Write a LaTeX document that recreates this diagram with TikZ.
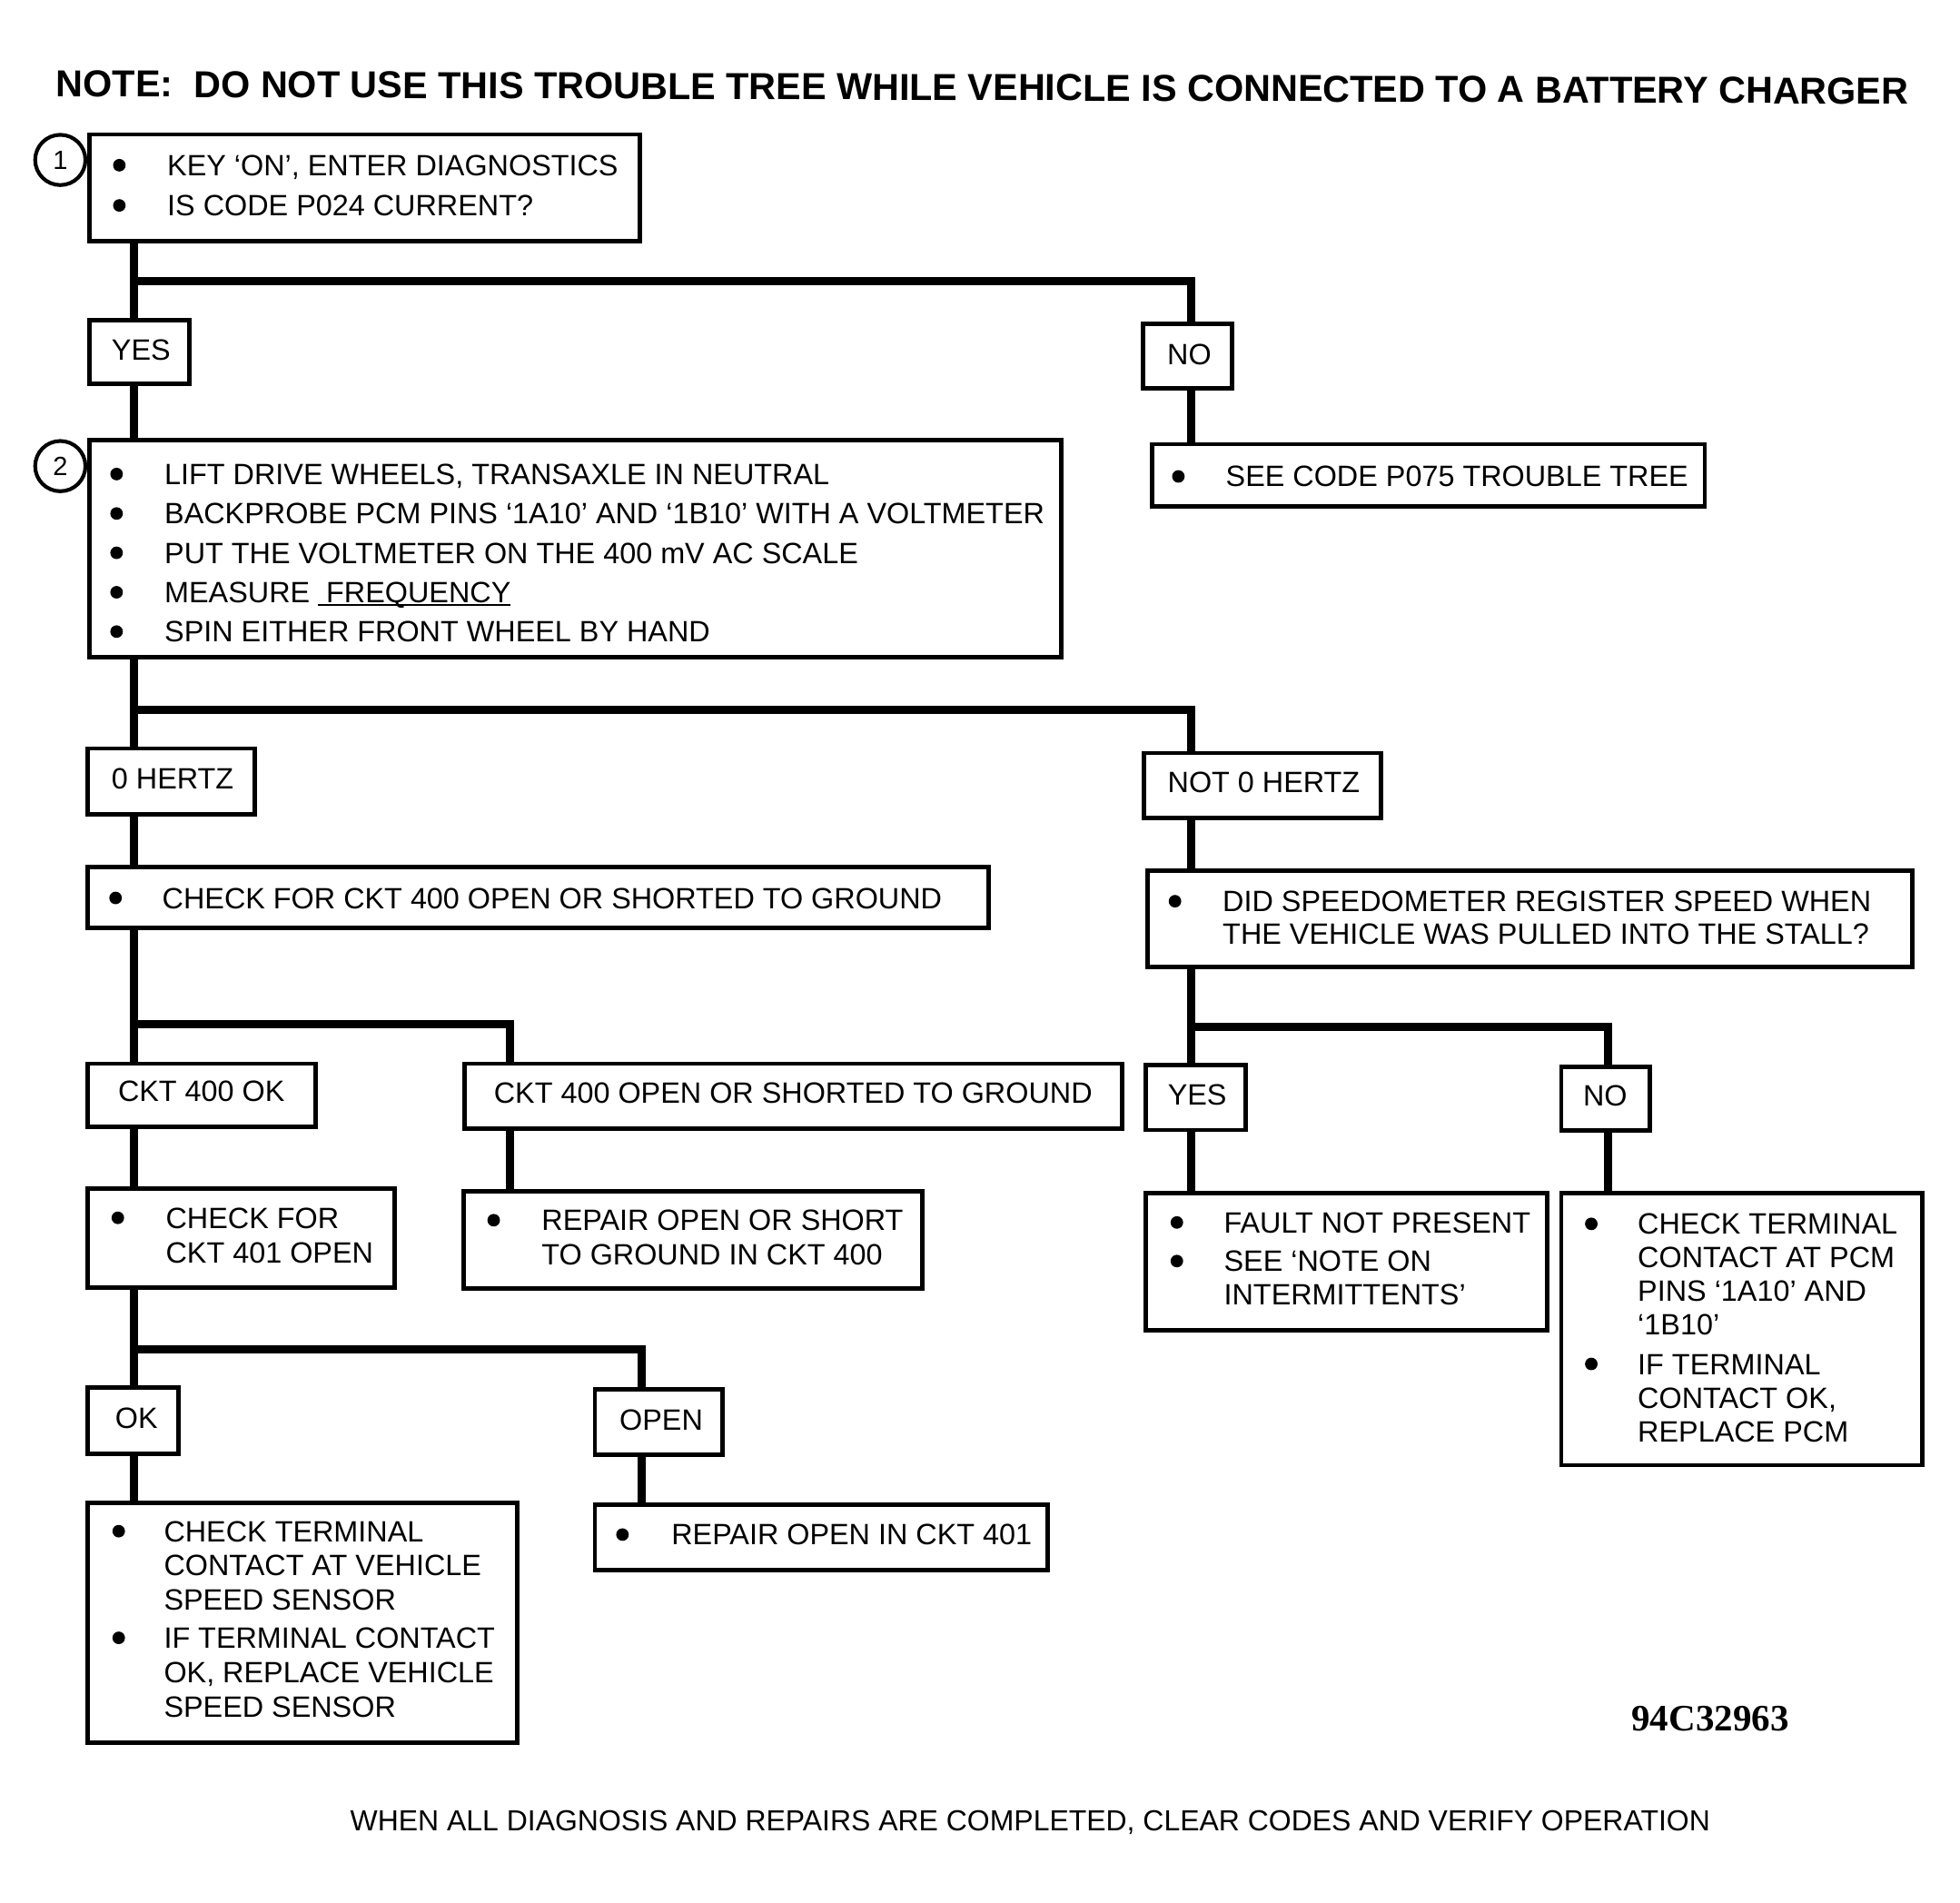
\documentclass[tikz,border=0pt]{standalone}
\usepackage{fontspec}
\setmainfont{Liberation Sans}
\newfontfamily\codefont{Liberation Serif}
\newcommand\mkbox[5]{\node[box, minimum width={(#4)-(#2)}, minimum height={(#5)-(#3)}] (#1) at (#2,#3) {};}
\newcommand\bul[2]{\fill (#1,#2) circle (5pt);}
\tikzset{
  box/.style={draw, line width=3.5pt, inner sep=0pt, outer sep=0pt, anchor=north west},
  conn/.style={line width=6.5pt},
  txt/.style={anchor=base west, inner sep=0pt, font=\fontsize{23.4}{28}\selectfont},
  num/.style={circle, draw, line width=3pt, minimum size=40pt, inner sep=0pt, font=\fontsize{21}{21}\selectfont},
}
\begin{document}
\begin{tikzpicture}[x=1pt,y=-1pt]
\useasboundingbox (0,0) rectangle (1560.2,1514);

% title
\node[anchor=base west, inner sep=0pt, font=\bfseries\fontsize{29.9}{30}\selectfont, rotate=-0.23] (title) at (44.6,77)
  {NOTE:\ \ DO NOT USE THIS TROUBLE TREE WHILE VEHICLE IS CONNECTED TO A BATTERY CHARGER};

% trunk coordinates
\coordinate (vA) at (106.5,0);
\coordinate (vB) at (948,0);
\coordinate (vC) at (405.6,0);
\coordinate (vD) at (511,0);
\coordinate (vE) at (1280.1,0);
\coordinate (h1) at (0,223.6);
\coordinate (h2) at (0,565);
\coordinate (h3) at (0,815.3);
\coordinate (h4) at (0,1074.3);
\coordinate (h5) at (0,817);

% step 1
\node[num] (c1) at (48,127.3) {1};
\mkbox{b1}{71}{107}{509.5}{192}
\bul{95}{131.5}
\node[txt] (t1a) at (133,140) {KEY ‘ON’, ENTER DIAGNOSTICS};
\bul{95}{163.5}
\node[txt] (t1b) at (133,172) {IS CODE P024 CURRENT?};

\mkbox{yes1}{71}{254.6}{150.6}{305.5}
\node[txt] (tyes1) at (88.7,286.5) {YES};
\mkbox{no1}{910}{257.6}{980.5}{309}
\node[txt] (tno1) at (929,290) {NO};

\mkbox{see}{917}{353.5}{1357}{403.3}
\bul{938}{379.2}
\node[txt] (tsee) at (975.6,387.5) {SEE CODE P075 TROUBLE TREE};

% step 2
\node[num] (c2) at (48,371) {2};
\mkbox{b2}{71}{350.5}{845}{523}
\bul{92.8}{377.3}
\node[txt] (t2a) at (130.8,385.6) {LIFT DRIVE WHEELS, TRANSAXLE IN NEUTRAL};
\bul{92.8}{408.7}
\node[txt] (t2b) at (130.8,417) {BACKPROBE PCM PINS ‘1A10’ AND ‘1B10’ WITH A VOLTMETER};
\bul{92.8}{440}
\node[txt] (t2c) at (130.8,448.3) {PUT THE VOLTMETER ON THE 400 mV AC SCALE};
\bul{92.8}{471.4}
\node[txt] (t2d) at (130.8,479.7) {MEASURE\ \ FREQUENCY};
\draw[line width=2pt] (253,481.5) -- (406.5,481.5);
\bul{92.8}{502.7}
\node[txt] (t2e) at (130.8,511) {SPIN EITHER FRONT WHEEL BY HAND};

\mkbox{hz0}{70}{595.7}{202.8}{648}
\node[txt] (thz0) at (88.7,628) {0 HERTZ};
\mkbox{nhz}{910.5}{599.4}{1099.5}{651}
\node[txt] (tnhz) at (929.3,630.8) {NOT 0 HERTZ};

\mkbox{chk400}{70}{689.8}{787}{738.5}
\bul{92}{714.7}
\node[txt] (tchk400) at (129,723) {CHECK FOR CKT 400 OPEN OR SHORTED TO GROUND};

\mkbox{ok400}{70}{846.6}{251}{897}
\node[txt] (tok400) at (93.8,876.5) {CKT 400 OK};
\mkbox{op400}{370}{846.6}{893.5}{898.3}
\node[txt] (top400) at (393,878) {CKT 400 OPEN OR SHORTED TO GROUND};

\mkbox{chk401}{70}{946}{314}{1024.9}
\bul{93.8}{969.3}
\node[txt] (tchk401a) at (131.8,977.6) {CHECK FOR};
\node[txt] (tchk401b) at (131.8,1005.3) {CKT 401 OPEN};

\mkbox{rep400}{369}{948}{734}{1025.6}
\bul{393}{971.2}
\node[txt] (trep400a) at (431,979.5) {REPAIR OPEN OR SHORT};
\node[txt] (trep400b) at (431,1006.4) {TO GROUND IN CKT 400};

\mkbox{ok401}{70}{1104.2}{142}{1157.1}
\node[txt] (tok401) at (91.5,1137) {OK};
\mkbox{op401}{473.6}{1105.9}{575}{1157.9}
\node[txt] (top401) at (493,1138.5) {OPEN};

\mkbox{vss}{69.7}{1196.3}{412}{1387.3}
\bul{94.5}{1218.7}
\node[txt] (tvss1) at (130.3,1227) {CHECK TERMINAL};
\node[txt] (tvss2) at (130.3,1254.3) {CONTACT AT VEHICLE};
\node[txt] (tvss3) at (130.3,1281.6) {SPEED SENSOR};
\bul{94.5}{1303.6}
\node[txt] (tvss4) at (130.3,1311.9) {IF TERMINAL CONTACT};
\node[txt] (tvss5) at (130.3,1339.2) {OK, REPLACE VEHICLE};
\node[txt] (tvss6) at (130.3,1366.5) {SPEED SENSOR};

\mkbox{rep401}{473.6}{1197.7}{834}{1249.7}
\bul{495.5}{1221.4}
\node[txt] (trep401) at (534.3,1229.7) {REPAIR OPEN IN CKT 401};

% right branch
\mkbox{spd}{913.4}{692.8}{1522.4}{769.5}
\bul{935.3}{717.3}
\node[txt] (tspd1) at (973.1,725.6) {DID SPEEDOMETER REGISTER SPEED WHEN};
\node[txt] (tspd2) at (973.1,751.8) {THE VEHICLE WAS PULLED INTO THE STALL?};

\mkbox{yes2}{912}{847.7}{991.5}{899.4}
\node[txt] (tyes2) at (929.4,879.5) {YES};
\mkbox{no2}{1242.8}{849}{1313.4}{900}
\node[txt] (tno2) at (1260,880.3) {NO};

\mkbox{fault}{912}{949.9}{1231.8}{1058.8}
\bul{936.8}{973}
\node[txt] (tf1) at (974.1,981.3) {FAULT NOT PRESENT};
\bul{936.8}{1003.7}
\node[txt] (tf2) at (974.1,1012) {SEE ‘NOTE ON};
\node[txt] (tf3) at (974.1,1038.5) {INTERMITTENTS’};

\mkbox{pcm}{1242.8}{949.9}{1530}{1166.2}
\bul{1266.7}{974.1}
\node[txt] (tp1) at (1303.5,982.4) {CHECK TERMINAL};
\node[txt] (tp2) at (1303.5,1009) {CONTACT AT PCM};
\node[txt] (tp3) at (1303.5,1035.5) {PINS ‘1A10’ AND};
\node[txt] (tp4) at (1303.5,1062.5) {‘1B10’};
\bul{1266.7}{1085.6}
\node[txt] (tp5) at (1303.5,1093.9) {IF TERMINAL};
\node[txt] (tp6) at (1303.5,1121) {CONTACT OK,};
\node[txt] (tp7) at (1303.5,1147.5) {REPLACE PCM};

% connectors
\draw[conn] (b1.south -| vA) -- (yes1.north -| vA);
\draw[conn] (vA |- h1) -- (vB |- h1) -- (no1.north -| vB);
\draw[conn] (yes1.south -| vA) -- (b2.north -| vA);
\draw[conn] (no1.south -| vB) -- (see.north -| vB);
\draw[conn] (b2.south -| vA) -- (hz0.north -| vA);
\draw[conn] (vA |- h2) -- (vB |- h2) -- (nhz.north -| vB);
\draw[conn] (hz0.south -| vA) -- (chk400.north -| vA);
\draw[conn] (chk400.south -| vA) -- (ok400.north -| vA);
\draw[conn] (vA |- h3) -- (vC |- h3) -- (op400.north -| vC);
\draw[conn] (ok400.south -| vA) -- (chk401.north -| vA);
\draw[conn] (op400.south -| vC) -- (rep400.north -| vC);
\draw[conn] (chk401.south -| vA) -- (ok401.north -| vA);
\draw[conn] (vA |- h4) -- (vD |- h4) -- (op401.north -| vD);
\draw[conn] (ok401.south -| vA) -- (vss.north -| vA);
\draw[conn] (op401.south -| vD) -- (rep401.north -| vD);
\draw[conn] (nhz.south -| vB) -- (spd.north -| vB);
\draw[conn] (spd.south -| vB) -- (yes2.north -| vB);
\draw[conn] (vB |- h5) -- (vE |- h5) -- (no2.north -| vE);
\draw[conn] (yes2.south -| vB) -- (fault.north -| vB);
\draw[conn] (no2.south -| vE) -- (pcm.north -| vE);

% figure number and footer
\node[anchor=base west, inner sep=0pt, font=\codefont\bfseries\fontsize{29.7}{30}\selectfont] (fig) at (1298.5,1377.7) {94C32963};
\node[anchor=base west, inner sep=0pt, font=\fontsize{23.1}{28}\selectfont] (foot) at (278.6,1457)
  {WHEN ALL DIAGNOSIS AND REPAIRS ARE COMPLETED, CLEAR CODES AND VERIFY OPERATION};
\end{tikzpicture}
\end{document}
